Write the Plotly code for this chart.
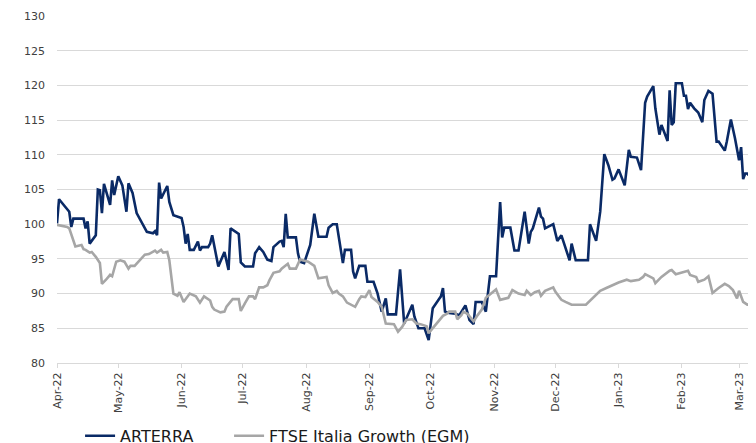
import plotly.graph_objects as go

arterra_dates = [
    "2022-04-01", "2022-04-02", "2022-04-07", "2022-04-08", "2022-04-09", "2022-04-14", "2022-04-15",
    "2022-04-16", "2022-04-17", "2022-04-20", "2022-04-21", "2022-04-22", "2022-04-23", "2022-04-24",
    "2022-04-27", "2022-04-28", "2022-04-29", "2022-05-01", "2022-05-03", "2022-05-05", "2022-05-06",
    "2022-05-08", "2022-05-10", "2022-05-12", "2022-05-14", "2022-05-15", "2022-05-18", "2022-05-19",
    "2022-05-20", "2022-05-21", "2022-05-22", "2022-05-25", "2022-05-26", "2022-05-28", "2022-06-01",
    "2022-06-02", "2022-06-03", "2022-06-04", "2022-06-05", "2022-06-07", "2022-06-09", "2022-06-10",
    "2022-06-11", "2022-06-14", "2022-06-15", "2022-06-16", "2022-06-19", "2022-06-22", "2022-06-24",
    "2022-06-25", "2022-06-29", "2022-06-30", "2022-07-02", "2022-07-06", "2022-07-07", "2022-07-09",
    "2022-07-11", "2022-07-13", "2022-07-15", "2022-07-16", "2022-07-19", "2022-07-20", "2022-07-21",
    "2022-07-22", "2022-07-23", "2022-07-27", "2022-07-28", "2022-07-29", "2022-07-31", "2022-08-03",
    "2022-08-05", "2022-08-07", "2022-08-11", "2022-08-12", "2022-08-14", "2022-08-16", "2022-08-19",
    "2022-08-20", "2022-08-23", "2022-08-24", "2022-08-25", "2022-08-27", "2022-08-30", "2022-08-31",
    "2022-09-03", "2022-09-05", "2022-09-07", "2022-09-09", "2022-09-10", "2022-09-14", "2022-09-16",
    "2022-09-18", "2022-09-22", "2022-09-23", "2022-09-25", "2022-09-28", "2022-09-30", "2022-10-02",
    "2022-10-05", "2022-10-06", "2022-10-07", "2022-10-08", "2022-10-10", "2022-10-13", "2022-10-15",
    "2022-10-18", "2022-10-20", "2022-10-22", "2022-10-23", "2022-10-26", "2022-10-28", "2022-10-30",
    "2022-11-02", "2022-11-04", "2022-11-05", "2022-11-06", "2022-11-09", "2022-11-11", "2022-11-13",
    "2022-11-16", "2022-11-18", "2022-11-19", "2022-11-20", "2022-11-23", "2022-11-24", "2022-11-25",
    "2022-11-26", "2022-11-30", "2022-12-02", "2022-12-04", "2022-12-08", "2022-12-09", "2022-12-11",
    "2022-12-17", "2022-12-18", "2022-12-21", "2022-12-23", "2022-12-25", "2022-12-27", "2022-12-29",
    "2022-12-30", "2023-01-01", "2023-01-04", "2023-01-06", "2023-01-07", "2023-01-10", "2023-01-12",
    "2023-01-14", "2023-01-15", "2023-01-18", "2023-01-19", "2023-01-21", "2023-01-22", "2023-01-25",
    "2023-01-26", "2023-01-27", "2023-01-28", "2023-01-29", "2023-02-01", "2023-02-02", "2023-02-03",
    "2023-02-04", "2023-02-05", "2023-02-07", "2023-02-09", "2023-02-11", "2023-02-12", "2023-02-14",
    "2023-02-16", "2023-02-18", "2023-02-19", "2023-02-22", "2023-02-23", "2023-02-25", "2023-02-27",
    "2023-03-01", "2023-03-02", "2023-03-03", "2023-03-04", "2023-03-05", "2023-03-08",
]
arterra_values = [
    100.1, 103.6, 101.8, 99.6, 100.8, 100.8, 99.4,
    100.4, 97.2, 98.4, 105.0, 104.9, 101.6, 105.8,
    102.8, 106.3, 104.2, 106.9, 105.6, 101.8, 105.9,
    104.5, 101.6, 100.6, 99.6, 98.9, 98.7, 99.0,
    98.4, 106.0, 103.7, 105.5, 103.2, 101.3, 100.9,
    99.6, 97.2, 98.6, 96.3, 96.3, 97.5, 96.2,
    96.7, 96.7, 97.2, 98.4, 93.9, 96.0, 93.4,
    99.4, 98.6, 94.5, 93.9, 93.9, 95.8, 96.7,
    96.0, 94.9, 94.7, 96.7, 97.5, 97.6, 96.7,
    101.5, 98.1, 98.1, 95.8, 94.6, 94.4, 97.0,
    101.5, 98.2, 98.2, 99.5, 100.0, 100.0, 94.4,
    96.3, 96.3, 93.2, 92.2, 94.0, 94.0, 91.7,
    91.7, 90.0, 87.4, 89.3, 87.0, 87.0, 93.5,
    85.7, 88.4, 86.7, 85.0, 85.0, 83.3, 87.9,
    89.2, 89.6, 90.8, 87.4, 87.2, 87.1, 86.9,
    88.3, 86.2, 85.6, 88.8, 88.8, 87.4, 92.5,
    92.5, 103.2, 98.1, 99.5, 99.5, 96.2, 96.2,
    101.8, 97.2, 98.9, 99.4, 102.4, 101.1, 100.8,
    99.4, 100.0, 97.6, 98.4, 94.8, 97.2, 94.8,
    94.8, 100.0, 97.6, 101.8, 110.1, 108.5, 106.4,
    106.6, 107.9, 105.6, 110.7, 109.7, 109.6, 107.8,
    117.5, 118.4, 119.9, 116.7, 112.9, 114.3, 112.0,
    119.3, 114.3, 114.7, 120.3, 120.3, 118.5, 118.5,
    116.6, 117.5, 116.7, 116.1, 114.7, 117.9, 119.2,
    118.8, 111.9, 111.9, 110.6, 111.9, 115.1, 112.4,
    109.2, 111.1, 106.5, 107.3, 107.3, 106.4,
]

ftse_dates = [
    "2022-04-01", "2022-04-06", "2022-04-07", "2022-04-10", "2022-04-13", "2022-04-14", "2022-04-15",
    "2022-04-17", "2022-04-18", "2022-04-20", "2022-04-22", "2022-04-23", "2022-04-25", "2022-04-27",
    "2022-04-28", "2022-04-30", "2022-05-02", "2022-05-04", "2022-05-06", "2022-05-07", "2022-05-09",
    "2022-05-11", "2022-05-14", "2022-05-16", "2022-05-19", "2022-05-20", "2022-05-22", "2022-05-23",
    "2022-05-25", "2022-05-26", "2022-05-28", "2022-05-30", "2022-05-31", "2022-06-02", "2022-06-03",
    "2022-06-05", "2022-06-08", "2022-06-10", "2022-06-12", "2022-06-15", "2022-06-16", "2022-06-17",
    "2022-06-20", "2022-06-22", "2022-06-23", "2022-06-26", "2022-06-29", "2022-06-30", "2022-07-02",
    "2022-07-04", "2022-07-06", "2022-07-07", "2022-07-09", "2022-07-11", "2022-07-13", "2022-07-14",
    "2022-07-16", "2022-07-19", "2022-07-20", "2022-07-23", "2022-07-24", "2022-07-27", "2022-07-29",
    "2022-08-02", "2022-08-05", "2022-08-06", "2022-08-07", "2022-08-11", "2022-08-12", "2022-08-14",
    "2022-08-16", "2022-08-17", "2022-08-19", "2022-08-21", "2022-08-25", "2022-08-27", "2022-08-28",
    "2022-08-30", "2022-09-01", "2022-09-02", "2022-09-05", "2022-09-07", "2022-09-09", "2022-09-13",
    "2022-09-15", "2022-09-17", "2022-09-19", "2022-09-22", "2022-09-24", "2022-09-26", "2022-09-29",
    "2022-09-30", "2022-10-02", "2022-10-04", "2022-10-07", "2022-10-09", "2022-10-10", "2022-10-13",
    "2022-10-14", "2022-10-16", "2022-10-17", "2022-10-19", "2022-10-22", "2022-10-24", "2022-10-26",
    "2022-10-28", "2022-10-31", "2022-11-02", "2022-11-04", "2022-11-08", "2022-11-10", "2022-11-13",
    "2022-11-16", "2022-11-17", "2022-11-19", "2022-11-21", "2022-11-23", "2022-11-24", "2022-11-26",
    "2022-11-30", "2022-12-01", "2022-12-04", "2022-12-06", "2022-12-09", "2022-12-16", "2022-12-20",
    "2022-12-23", "2022-12-26", "2022-12-29", "2023-01-01", "2023-01-05", "2023-01-07", "2023-01-11",
    "2023-01-13", "2023-01-14", "2023-01-18", "2023-01-19", "2023-01-22", "2023-01-26", "2023-01-27",
    "2023-01-29", "2023-02-03", "2023-02-04", "2023-02-05", "2023-02-08", "2023-02-09", "2023-02-12",
    "2023-02-14", "2023-02-16", "2023-02-19", "2023-02-22", "2023-02-24", "2023-02-26", "2023-02-28",
    "2023-03-01", "2023-03-03", "2023-03-05", "2023-03-08", "2023-03-09",
]
ftse_values = [
    99.9, 99.6, 99.4, 96.8, 97.0, 96.4, 96.3,
    95.9, 96.0, 95.3, 94.4, 91.4, 92.0, 92.7,
    92.5, 94.6, 94.8, 94.6, 93.6, 94.0, 94.0,
    94.7, 95.6, 95.7, 96.2, 95.9, 96.3, 95.9,
    96.0, 94.8, 90.0, 89.7, 90.2, 88.8, 89.2,
    90.0, 89.6, 88.7, 89.6, 89.0, 88.1, 87.7,
    87.3, 87.4, 88.1, 89.2, 89.2, 87.5, 88.6,
    89.6, 89.6, 89.2, 90.9, 90.9, 91.2, 91.9,
    93.0, 93.2, 93.6, 94.3, 93.6, 93.6, 94.9,
    94.6, 94.0, 92.9, 92.2, 92.4, 91.2, 90.1,
    90.4, 90.0, 89.6, 88.7, 88.1, 89.2, 89.6,
    89.5, 90.5, 89.5, 88.8, 88.1, 85.7, 85.6,
    84.5, 85.2, 86.2, 86.3, 85.7, 85.6, 85.3,
    84.3, 85.0, 85.7, 86.8, 87.1, 87.4, 87.4,
    86.3, 86.9, 87.4, 87.1, 86.0, 86.9, 87.7,
    89.4, 90.1, 90.6, 89.1, 89.4, 90.5, 90.0,
    89.8, 90.4, 89.8, 90.2, 90.4, 89.7, 90.4,
    90.9, 90.3, 89.1, 88.8, 88.4, 88.4, 89.6,
    90.4, 90.8, 91.2, 91.6, 92.0, 91.8, 92.0,
    92.4, 92.8, 92.2, 91.5, 92.4, 93.3, 93.4,
    92.8, 93.2, 93.3, 92.7, 92.4, 91.7, 92.0,
    92.5, 90.1, 90.8, 91.4, 91.1, 90.5, 89.3,
    90.4, 88.8, 88.4, 88.5, 89.3,
]

series_names = ["ARTERRA", "FTSE Italia Growth (EGM)"]
y_ticks = [80, 85, 90, 95, 100, 105, 110, 115, 120, 125, 130]

fig = go.Figure()
fig.add_trace(go.Scatter(x=arterra_dates, y=arterra_values, mode="lines",
                         name=series_names[0], legendwidth=104,
                         line=dict(color="#0a2a66", width=2.6)))
fig.add_trace(go.Scatter(x=ftse_dates, y=ftse_values, mode="lines",
                         name=series_names[1], legendwidth=230,
                         line=dict(color="#a6a6a6", width=2.6)))

font_family = "DejaVu Sans, Verdana, sans-serif"
fig.update_layout(
    width=748, height=443,
    margin=dict(l=49, r=0, t=8, b=88, autoexpand=False),
    paper_bgcolor="white", plot_bgcolor="white",
    font=dict(family=font_family, color="#404040", size=11),
    showlegend=True,
    legend=dict(orientation="h", x=0.033, xanchor="left", y=-0.21, yanchor="middle",
                font=dict(size=16, color="#1a1a1a"), entrywidthmode="pixels",
                bgcolor="rgba(0,0,0,0)"),
)
fig.update_xaxes(
    type="date", range=["2022-04-01", "2023-03-09 07:00"], automargin=False,
    tick0="2022-04-01", dtick="M1", tickformat="%b-%y", tickangle=-90,
    showgrid=False, showline=True, linecolor="#d9d9d9", linewidth=1,
    ticks="outside", ticklen=4, tickcolor="#d9d9d9",
    tickfont=dict(size=11, color="#404040"),
)
fig.update_yaxes(
    range=[80, 130], tickvals=y_ticks, showgrid=True, gridcolor="#d9d9d9", gridwidth=1,
    zeroline=False, showline=False, ticks="", ticklabelstandoff=11, automargin=False,
    tickfont=dict(size=11, color="#404040"),
)

fig.write_html("out.html")
